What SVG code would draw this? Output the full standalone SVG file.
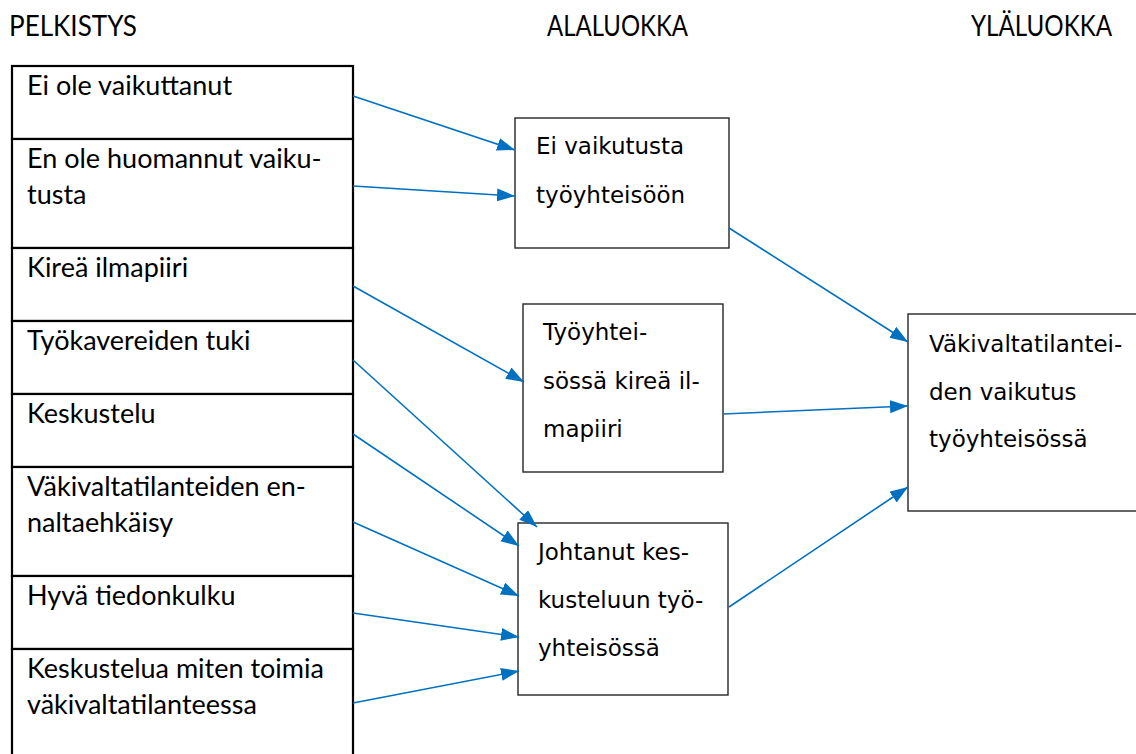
<svg xmlns="http://www.w3.org/2000/svg" width="1136" height="754" viewBox="0 0 1136 754">
<style>
.hdr{font-family:Lato,"Liberation Sans",sans-serif;font-size:28px;fill:#000}
.lt{font-family:Lato,"Liberation Sans",sans-serif;font-size:27px;fill:#000}
.mt{font-family:"DejaVu Sans",Verdana,sans-serif;font-size:23px;fill:#000}
.row{fill:#fff;stroke:#000;stroke-width:2.2}
.box{fill:#fff;stroke:#262626;stroke-width:1.4}
.conn{stroke:#0070C0;stroke-width:1.6;fill:none;marker-end:url(#ah)}
</style>
<defs>
<marker id="ah" markerUnits="userSpaceOnUse" markerWidth="19" markerHeight="14" refX="18" refY="6.5" orient="auto">
<path d="M0,0 L18,6.5 L0,13 z" fill="#0070C0"/>
</marker>
</defs>
<rect width="1136" height="754" fill="#fff"/>
<g id="headers">
<text class="hdr" x="9" y="36" textLength="128" lengthAdjust="spacingAndGlyphs">PELKISTYS</text>
<text class="hdr" x="547" y="36" textLength="141" lengthAdjust="spacingAndGlyphs">ALALUOKKA</text>
<text class="hdr" x="971" y="36" textLength="141" lengthAdjust="spacingAndGlyphs">YLÄLUOKKA</text>
</g>
<g id="p1"><rect class="row" x="12" y="66" width="341" height="73"/><text class="lt" x="27" y="95">Ei ole vaikuttanut</text></g>
<g id="p2"><rect class="row" x="12" y="139" width="341" height="109"/><text class="lt" x="27" y="168">En ole huomannut vaiku-</text><text class="lt" x="27" y="204">tusta</text></g>
<g id="p3"><rect class="row" x="12" y="248" width="341" height="73"/><text class="lt" x="27" y="277">Kireä ilmapiiri</text></g>
<g id="p4"><rect class="row" x="12" y="321" width="341" height="73"/><text class="lt" x="27" y="350">Työkavereiden tuki</text></g>
<g id="p5"><rect class="row" x="12" y="394" width="341" height="73"/><text class="lt" x="27" y="423">Keskustelu</text></g>
<g id="p6"><rect class="row" x="12" y="467" width="341" height="109"/><text class="lt" x="27" y="496">Väkivaltatilanteiden en-</text><text class="lt" x="27" y="532">naltaehkäisy</text></g>
<g id="p7"><rect class="row" x="12" y="576" width="341" height="73"/><text class="lt" x="27" y="605">Hyvä tiedonkulku</text></g>
<g id="p8"><rect class="row" x="12" y="649" width="341" height="120"/><text class="lt" x="27" y="678">Keskustelua miten toimia</text><text class="lt" x="27" y="714">väkivaltatilanteessa</text></g>
<g id="a1"><rect class="box" x="515" y="118" width="214" height="130"/><text class="mt" x="536" y="154">Ei vaikutusta</text><text class="mt" x="536" y="203">työyhteisöön</text></g>
<g id="a2"><rect class="box" x="523" y="304" width="200" height="168"/><text class="mt" x="543" y="340">Työyhtei-</text><text class="mt" x="543" y="389">sössä kireä il-</text><text class="mt" x="543" y="437">mapiiri</text></g>
<g id="a3"><rect class="box" x="518" y="523" width="210" height="172"/><text class="mt" x="538" y="560">Johtanut kes-</text><text class="mt" x="538" y="608">kusteluun työ-</text><text class="mt" x="538" y="656">yhteisössä</text></g>
<g id="y1"><rect class="box" x="908" y="314" width="240" height="197"/><text class="mt" x="929" y="352">Väkivaltatilantei-</text><text class="mt" x="929" y="400">den vaikutus</text><text class="mt" x="929" y="447">työyhteisössä</text></g>
<g id="connectors">
<line class="conn" x1="353" y1="96" x2="515" y2="150"/>
<line class="conn" x1="353" y1="186" x2="515" y2="196"/>
<line class="conn" x1="353" y1="286" x2="524" y2="382"/>
<line class="conn" x1="353" y1="360" x2="537" y2="527"/>
<line class="conn" x1="353" y1="434" x2="519" y2="546"/>
<line class="conn" x1="353" y1="522" x2="519" y2="596"/>
<line class="conn" x1="353" y1="613" x2="519" y2="637"/>
<line class="conn" x1="353" y1="703" x2="519" y2="671"/>
<line class="conn" x1="729" y1="228" x2="908" y2="342"/>
<line class="conn" x1="723" y1="414" x2="908" y2="406"/>
<line class="conn" x1="729" y1="607" x2="908" y2="487"/>
</g>
</svg>
